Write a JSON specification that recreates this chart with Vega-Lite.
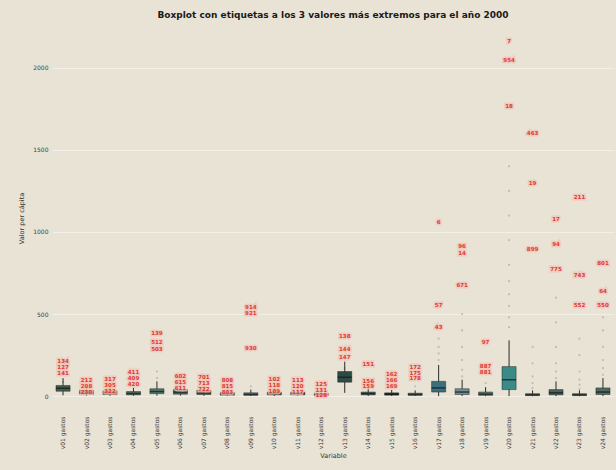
{
  "$schema": "https://vega.github.io/schema/vega-lite/v6.json",
  "autosize": {"type": "none"},
  "padding": {"left": 52, "top": 30, "right": 2, "bottom": 64},
  "width": 562,
  "height": 376,
  "background": "#e9e3d5",
  "title": {"text": "Boxplot con etiquetas a los 3 valores más extremos para el año 2000", "fontSize": 9, "fontWeight": "bold", "font": "DejaVu Sans", "color": "#1a1a1a", "anchor": "middle", "offset": 10},
  "datasets": {
    "box": [
      {"cat": "v01 gastos", "lo": 5, "q1": 30, "med": 48, "q3": 65, "hi": 110},
      {"cat": "v02 gastos", "lo": 2, "q1": 12, "med": 22, "q3": 35, "hi": 60},
      {"cat": "v03 gastos", "lo": 2, "q1": 10, "med": 20, "q3": 32, "hi": 55},
      {"cat": "v04 gastos", "lo": 2, "q1": 8, "med": 16, "q3": 28, "hi": 50},
      {"cat": "v05 gastos", "lo": 3, "q1": 15, "med": 28, "q3": 45, "hi": 90},
      {"cat": "v06 gastos", "lo": 3, "q1": 12, "med": 25, "q3": 40, "hi": 75},
      {"cat": "v07 gastos", "lo": 2, "q1": 10, "med": 20, "q3": 35, "hi": 65},
      {"cat": "v08 gastos", "lo": 1, "q1": 6, "med": 12, "q3": 22, "hi": 45},
      {"cat": "v09 gastos", "lo": 1, "q1": 5, "med": 10, "q3": 20, "hi": 40},
      {"cat": "v10 gastos", "lo": 1, "q1": 8, "med": 15, "q3": 25, "hi": 50},
      {"cat": "v11 gastos", "lo": 1, "q1": 8, "med": 15, "q3": 25, "hi": 50},
      {"cat": "v12 gastos", "lo": 1, "q1": 5, "med": 10, "q3": 16, "hi": 28},
      {"cat": "v13 gastos", "lo": 20, "q1": 85, "med": 115, "q3": 150, "hi": 210},
      {"cat": "v14 gastos", "lo": 1, "q1": 8, "med": 15, "q3": 25, "hi": 50},
      {"cat": "v15 gastos", "lo": 1, "q1": 6, "med": 12, "q3": 20, "hi": 38},
      {"cat": "v16 gastos", "lo": 1, "q1": 5, "med": 10, "q3": 18, "hi": 35},
      {"cat": "v17 gastos", "lo": 0, "q1": 25, "med": 50, "q3": 90, "hi": 190},
      {"cat": "v18 gastos", "lo": 0, "q1": 10, "med": 25, "q3": 45, "hi": 100},
      {"cat": "v19 gastos", "lo": 0, "q1": 5, "med": 12, "q3": 25, "hi": 55},
      {"cat": "v20 gastos", "lo": 0, "q1": 40, "med": 100, "q3": 180, "hi": 340},
      {"cat": "v21 gastos", "lo": 0, "q1": 3, "med": 8, "q3": 15, "hi": 35},
      {"cat": "v22 gastos", "lo": 0, "q1": 8, "med": 20, "q3": 40, "hi": 90},
      {"cat": "v23 gastos", "lo": 0, "q1": 3, "med": 8, "q3": 15, "hi": 35},
      {"cat": "v24 gastos", "lo": 0, "q1": 10, "med": 25, "q3": 50, "hi": 110}
    ],
    "pts": [
      {"cat": "v01 gastos", "value": 212, "id": "134"}, {"cat": "v01 gastos", "value": 176, "id": "127"}, {"cat": "v01 gastos", "value": 140, "id": "141"}, {"cat": "v01 gastos", "value": 40}, {"cat": "v01 gastos", "value": 85},
      {"cat": "v02 gastos", "value": 100, "id": "212"}, {"cat": "v02 gastos", "value": 64, "id": "208"}, {"cat": "v02 gastos", "value": 28, "id": "230"},
      {"cat": "v03 gastos", "value": 106, "id": "317"}, {"cat": "v03 gastos", "value": 70, "id": "305"}, {"cat": "v03 gastos", "value": 34, "id": "322"},
      {"cat": "v04 gastos", "value": 146, "id": "411"}, {"cat": "v04 gastos", "value": 110, "id": "409"}, {"cat": "v04 gastos", "value": 74, "id": "420"},
      {"cat": "v05 gastos", "value": 385, "id": "139"}, {"cat": "v05 gastos", "value": 330, "id": "512"}, {"cat": "v05 gastos", "value": 290, "id": "503"}, {"cat": "v05 gastos", "value": 150}, {"cat": "v05 gastos", "value": 110},
      {"cat": "v06 gastos", "value": 124, "id": "602"}, {"cat": "v06 gastos", "value": 88, "id": "615"}, {"cat": "v06 gastos", "value": 52, "id": "611"},
      {"cat": "v07 gastos", "value": 116, "id": "701"}, {"cat": "v07 gastos", "value": 80, "id": "713"}, {"cat": "v07 gastos", "value": 44, "id": "722"},
      {"cat": "v08 gastos", "value": 96, "id": "808"}, {"cat": "v08 gastos", "value": 60, "id": "815"}, {"cat": "v08 gastos", "value": 24, "id": "803"},
      {"cat": "v09 gastos", "value": 545, "id": "914"}, {"cat": "v09 gastos", "value": 505, "id": "921"}, {"cat": "v09 gastos", "value": 295, "id": "930"}, {"cat": "v09 gastos", "value": 60},
      {"cat": "v10 gastos", "value": 102, "id": "102"}, {"cat": "v10 gastos", "value": 66, "id": "118"}, {"cat": "v10 gastos", "value": 30, "id": "109"},
      {"cat": "v11 gastos", "value": 98, "id": "113"}, {"cat": "v11 gastos", "value": 62, "id": "120"}, {"cat": "v11 gastos", "value": 26, "id": "117"},
      {"cat": "v12 gastos", "value": 76, "id": "125"}, {"cat": "v12 gastos", "value": 40, "id": "131"}, {"cat": "v12 gastos", "value": 4, "id": "128"},
      {"cat": "v13 gastos", "value": 365, "id": "138"}, {"cat": "v13 gastos", "value": 285, "id": "144"}, {"cat": "v13 gastos", "value": 240, "id": "147"}, {"cat": "v13 gastos", "value": 100}, {"cat": "v13 gastos", "value": 170},
      {"cat": "v14 gastos", "value": 195, "id": "151"}, {"cat": "v14 gastos", "value": 95, "id": "156"}, {"cat": "v14 gastos", "value": 59, "id": "159"},
      {"cat": "v15 gastos", "value": 136, "id": "162"}, {"cat": "v15 gastos", "value": 100, "id": "166"}, {"cat": "v15 gastos", "value": 64, "id": "169"},
      {"cat": "v16 gastos", "value": 180, "id": "172"}, {"cat": "v16 gastos", "value": 144, "id": "175"}, {"cat": "v16 gastos", "value": 108, "id": "178"}, {"cat": "v16 gastos", "value": 60},
      {"cat": "v17 gastos", "value": 1060, "id": "6"}, {"cat": "v17 gastos", "value": 555, "id": "57"}, {"cat": "v17 gastos", "value": 420, "id": "43"}, {"cat": "v17 gastos", "value": 220}, {"cat": "v17 gastos", "value": 260}, {"cat": "v17 gastos", "value": 300}, {"cat": "v17 gastos", "value": 350},
      {"cat": "v18 gastos", "value": 915, "id": "96"}, {"cat": "v18 gastos", "value": 870, "id": "14"}, {"cat": "v18 gastos", "value": 675, "id": "671"}, {"cat": "v18 gastos", "value": 120}, {"cat": "v18 gastos", "value": 160}, {"cat": "v18 gastos", "value": 220}, {"cat": "v18 gastos", "value": 300}, {"cat": "v18 gastos", "value": 400}, {"cat": "v18 gastos", "value": 500},
      {"cat": "v19 gastos", "value": 330, "id": "97"}, {"cat": "v19 gastos", "value": 186, "id": "887"}, {"cat": "v19 gastos", "value": 150, "id": "881"}, {"cat": "v19 gastos", "value": 80},
      {"cat": "v20 gastos", "value": 2160, "id": "7"}, {"cat": "v20 gastos", "value": 2050, "id": "954"}, {"cat": "v20 gastos", "value": 1770, "id": "18"}, {"cat": "v20 gastos", "value": 420}, {"cat": "v20 gastos", "value": 480}, {"cat": "v20 gastos", "value": 550}, {"cat": "v20 gastos", "value": 620}, {"cat": "v20 gastos", "value": 700}, {"cat": "v20 gastos", "value": 800}, {"cat": "v20 gastos", "value": 950}, {"cat": "v20 gastos", "value": 1100}, {"cat": "v20 gastos", "value": 1250}, {"cat": "v20 gastos", "value": 1400},
      {"cat": "v21 gastos", "value": 1600, "id": "463"}, {"cat": "v21 gastos", "value": 1300, "id": "19"}, {"cat": "v21 gastos", "value": 895, "id": "899"}, {"cat": "v21 gastos", "value": 50}, {"cat": "v21 gastos", "value": 80}, {"cat": "v21 gastos", "value": 120}, {"cat": "v21 gastos", "value": 200}, {"cat": "v21 gastos", "value": 300},
      {"cat": "v22 gastos", "value": 1080, "id": "17"}, {"cat": "v22 gastos", "value": 925, "id": "94"}, {"cat": "v22 gastos", "value": 775, "id": "775"}, {"cat": "v22 gastos", "value": 110}, {"cat": "v22 gastos", "value": 150}, {"cat": "v22 gastos", "value": 200}, {"cat": "v22 gastos", "value": 300}, {"cat": "v22 gastos", "value": 450}, {"cat": "v22 gastos", "value": 600},
      {"cat": "v23 gastos", "value": 1210, "id": "211"}, {"cat": "v23 gastos", "value": 740, "id": "743"}, {"cat": "v23 gastos", "value": 555, "id": "552"}, {"cat": "v23 gastos", "value": 45}, {"cat": "v23 gastos", "value": 70}, {"cat": "v23 gastos", "value": 100}, {"cat": "v23 gastos", "value": 150}, {"cat": "v23 gastos", "value": 250}, {"cat": "v23 gastos", "value": 350},
      {"cat": "v24 gastos", "value": 810, "id": "801"}, {"cat": "v24 gastos", "value": 640, "id": "64"}, {"cat": "v24 gastos", "value": 555, "id": "550"}, {"cat": "v24 gastos", "value": 130}, {"cat": "v24 gastos", "value": 170}, {"cat": "v24 gastos", "value": 220}, {"cat": "v24 gastos", "value": 300}, {"cat": "v24 gastos", "value": 400}, {"cat": "v24 gastos", "value": 480}
    ]
  },
  "encoding": {
    "x": {
      "field": "cat", "type": "nominal", "sort": null,
      "scale": {"paddingInner": 0.4, "paddingOuter": 0.17},
      "axis": {"title": "Variable", "titleFontSize": 6.5, "titleFont": "DejaVu Sans", "titleFontWeight": "normal", "titleColor": "#333333", "labelAngle": 270, "labelFontSize": 6, "labelFont": "DejaVu Sans", "labelColor": "#3a3a3a", "labelPadding": 10, "ticks": false, "domain": false, "grid": false, "titlePadding": 4}
    }
  },
  "layer": [
    {
      "data": {"name": "pts"},
      "mark": {"type": "circle", "size": 5, "color": "#a9a497", "opacity": 0.6},
      "encoding": {
        "y": {"field": "value", "type": "quantitative", "scale": {"domain": [-60, 2230], "nice": false, "zero": false},
          "axis": {"title": "Valor per cápita", "titleFontSize": 6.5, "titleFont": "DejaVu Sans", "titleFontWeight": "normal", "titleColor": "#333333", "values": [0, 500, 1000, 1500, 2000], "format": "d", "labelFontSize": 6, "labelFont": "DejaVu Sans", "labelColor": "#444444", "ticks": false, "domain": false, "gridColor": "#f3efe6", "gridWidth": 1, "labelPadding": 4, "titlePadding": 8}}
      }
    },
    {
      "data": {"name": "box"},
      "mark": {"type": "rule", "color": "#2b2b2b", "strokeWidth": 1},
      "encoding": {"y": {"field": "lo", "type": "quantitative"}, "y2": {"field": "hi"}}
    },
    {
      "data": {"name": "box"},
      "mark": {"type": "bar", "stroke": "#2a2a2a", "strokeWidth": 0.5},
      "encoding": {
        "y": {"field": "q1", "type": "quantitative"}, "y2": {"field": "q3"},
        "color": {"field": "cat", "type": "nominal", "sort": null, "legend": null,
          "scale": {"range": ["#3f5e4c", "#4e5f55", "#566b5c", "#556b5e", "#4f7a6e", "#3c6b52", "#4a6458", "#5a6a60", "#56786a", "#5a6a5e", "#4f655a", "#5e5250", "#2e4a45", "#4d5e55", "#2b3a36", "#3f6f78", "#3b6f7d", "#6d8e95", "#5c7a70", "#3a8a88", "#4f6a62", "#44645c", "#556e66", "#4d6a60"]}}
      }
    },
    {
      "data": {"name": "box"},
      "mark": {"type": "tick", "color": "#151515", "thickness": 1.5, "size": 14},
      "encoding": {"y": {"field": "med", "type": "quantitative"}}
    },
    {
      "data": {"name": "pts"},
      "transform": [{"filter": "datum.id != null"}],
      "mark": {"type": "text", "fontSize": 5.5, "font": "DejaVu Sans", "fontWeight": "bold", "color": "#f2c4bb", "stroke": "#f2c4bb", "strokeWidth": 3, "opacity": 0.75},
      "encoding": {"y": {"field": "value", "type": "quantitative"}, "text": {"field": "id"}}
    },
    {
      "data": {"name": "pts"},
      "transform": [{"filter": "datum.id != null"}],
      "mark": {"type": "text", "fontSize": 5.5, "font": "DejaVu Sans", "fontWeight": "bold", "color": "#dc3b30"},
      "encoding": {"y": {"field": "value", "type": "quantitative"}, "text": {"field": "id"}}
    }
  ],
  "config": {"view": {"stroke": null}}
}
